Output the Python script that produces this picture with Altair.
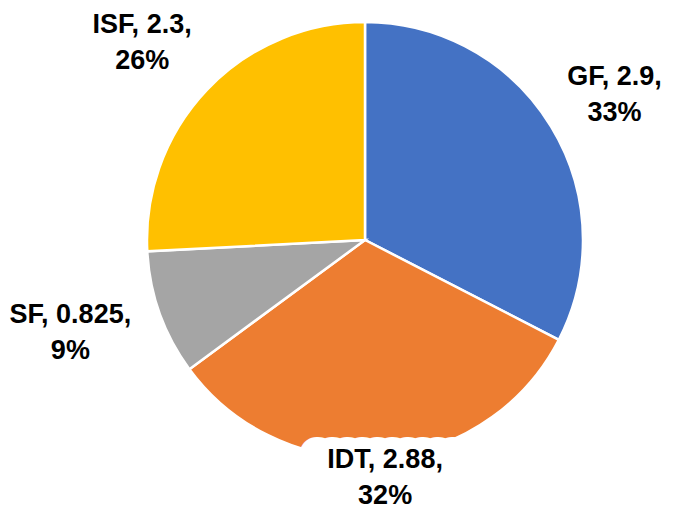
import altair as alt
import pandas as pd

categories = ["GF", "IDT", "SF", "ISF"]
values = [2.9, 2.88, 0.825, 2.3]
colors = ["#4472C4", "#ED7D31", "#A5A5A5", "#FFC000"]

df = pd.DataFrame({"cat": categories, "value": values, "idx": list(range(len(categories)))})

R = 218
W, H = 602, 464
base = alt.Chart(df).transform_joinaggregate(
    total="sum(value)"
).transform_window(
    cum="sum(value)", sort=[alt.SortField("idx")], frame=[None, 0]
).transform_calculate(
    mid="(datum.cum - datum.value/2)/datum.total*2*PI",
    line1="datum.cat + ', ' + datum.value + ','",
    label="datum.cat + ', ' + datum.value + ',\\n' + format(datum.value/datum.total, '.0%')",
).transform_calculate(
    rr=f"{R} + 16 + abs(sin(datum.mid))*length(datum.line1)*6.4 + abs(cos(datum.mid))*37",
    box="replace(datum.label, regexp('[^\\\\n]', 'g'), '0')",
).transform_calculate(
    r="min(datum.rr, 248/abs(cos(datum.mid)))"
).transform_calculate(
    lx=f"min({W}/2 + datum.r*sin(datum.mid)*1.02, {W} - length(datum.line1)*6.2 - 2)",
    ly=f"{H}/2 - datum.r*cos(datum.mid) + (cos(datum.mid) > 0 ? 10 : -10)",
)

pie = base.mark_arc(radius=R, stroke="white", strokeWidth=2.5).encode(
    theta=alt.Theta("value:Q", stack=True),
    color=alt.Color("cat:N", scale=alt.Scale(domain=categories, range=colors), legend=None),
    order=alt.Order("idx:Q"),
)

text_props = dict(
    font="Liberation Sans", fontSize=27, fontWeight="bold", lineBreak="\n", lineHeight=36,
    align="center", baseline="middle", dy=-18,
)

halo = base.mark_text(
    color="white", stroke="white", strokeWidth=24, strokeJoin="miter", **text_props
).encode(
    x=alt.X("lx:Q", scale=None),
    y=alt.Y("ly:Q", scale=None),
    text="box:N",
)

text = base.mark_text(color="black", **text_props).encode(
    x=alt.X("lx:Q", scale=None),
    y=alt.Y("ly:Q", scale=None),
    text="label:N",
)

chart = alt.layer(pie, halo, text).properties(
    width=W, height=H,
    padding={"left": 56, "top": 0, "right": 0, "bottom": 36},
    autosize=alt.AutoSizeParams(type="none"),
).configure_view(stroke=None)

chart.save("out.html", embed_options={"renderer": "svg", "actions": False})
